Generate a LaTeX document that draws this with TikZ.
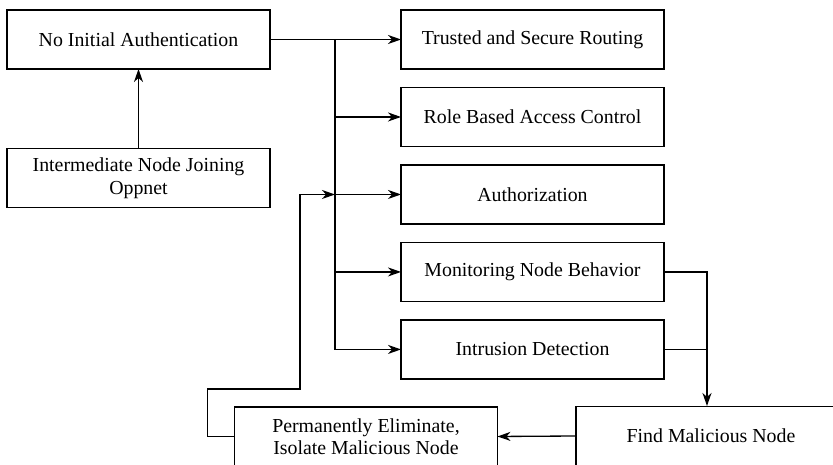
\documentclass[tikz,border=0pt]{standalone}
\usepackage{fontspec}
\setmainfont{Liberation Serif}
\usetikzlibrary{positioning,arrows.meta}

\begin{document}
\begin{tikzpicture}[x=0.02cm, y=-0.02cm,
    every node/.append style={font=\fontsize{11.3}{12.8}\selectfont},
    box/.style={draw, line width=0.75pt, minimum width=5.26cm,
                minimum height=1.18cm, align=center, inner sep=2pt, outer sep=0pt},
    link/.style={line width=0.75pt, -{Stealth[length=2.6mm, width=1.8mm, inset=0.8mm]}},
    wire/.style={line width=0.75pt}]
    \useasboundingbox (0,0) rectangle (833,465);
    \clip (0,0) rectangle (833,465);
    \node[box] (noauth) at (138.5,39.5) {No Initial Authentication};
    \node[box] (joining) at (138.5,178) {Intermediate Node Joining\\Oppnet};
    \node[box] (routing) at (532.5,39.5) {Trusted and Secure Routing};
    \node[box, below=0.37cm of routing] (rbac) {Role Based Access Control};
    \node[box, below=0.37cm of rbac] (authz) {Authorization};
    \node[box, below=0.37cm of authz] (monitor) {Monitoring Node Behavior};
    \node[box, below=0.37cm of monitor] (ids) {Intrusion Detection};
    \node[box] (isolate) at (366,436.5) {Permanently Eliminate,\\Isolate Malicious Node};
    \node[box, minimum width=5.4cm] (find) at (711,436) {Find Malicious Node};
    \coordinate (trunk) at (335,39.5);
    \coordinate (join) at (335,194.5);
    \coordinate (drop) at (707,406);
    \draw[link] (joining) -- (noauth);
    \draw[link] (noauth) -- (routing);
    \foreach \n in {rbac,authz,monitor,ids}
        \draw[link] (trunk) |- (\n.west);
    \draw[link] (isolate.west) -- ++(-27,0) |- (300,389) |- (join);
    \draw[link] (monitor.east) -| (drop);
    \draw[wire] (ids.east) -| (drop |- monitor.east);
    \draw[link] (find.west) -- (isolate.east);
\end{tikzpicture}
\end{document}
